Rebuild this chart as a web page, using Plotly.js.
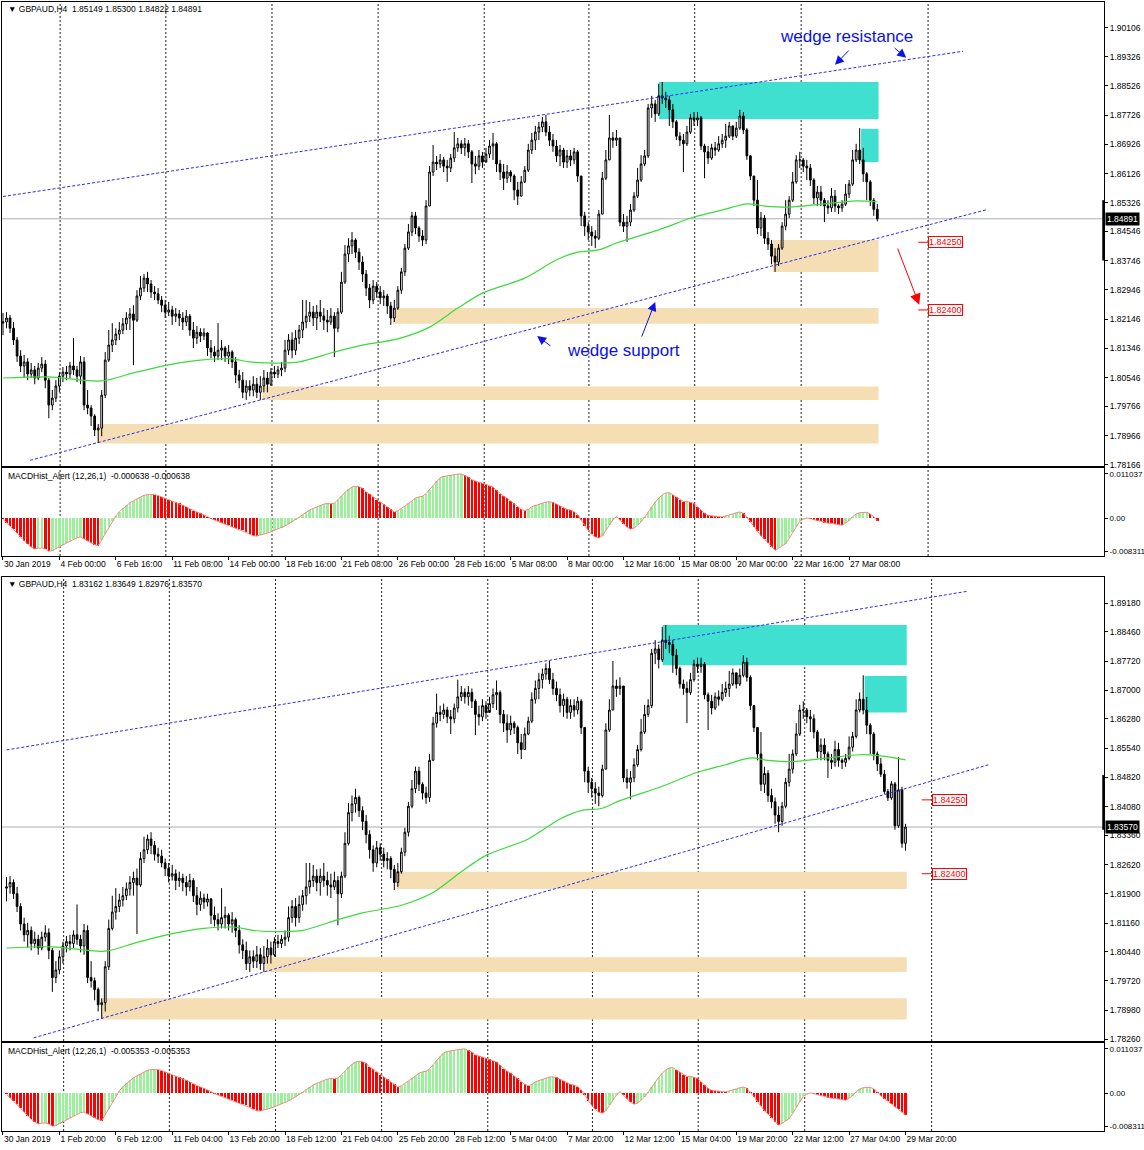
<!DOCTYPE html>
<html><head><meta charset="utf-8">
<script src="https://cdn.plot.ly/plotly-3.0.1.min.js"></script>
<style>html,body{margin:0;padding:0;background:#fff}#chart{width:1144px;height:1150px}</style>
</head><body><div id="chart"></div>
<script>
// ---------------- DATA (GBPAUD H4) ----------------
const firstOpen = 1.8204;
const closes = [
1.8207,1.8218,1.8190,1.8158,1.8114,1.8087,1.8098,1.8065,1.8076,1.8054,
1.8081,1.8092,1.8048,1.7980,1.7999,1.8032,1.8059,1.8070,1.8065,1.8087,
1.8076,1.8059,1.8098,1.7980,1.7972,1.7950,1.7912,1.7917,1.8007,1.8103,
1.8144,1.8158,1.8174,1.8185,1.8202,1.8218,1.8229,1.8212,1.8278,1.8300,
1.8327,1.8311,1.8289,1.8284,1.8267,1.8253,1.8234,1.8240,1.8223,1.8229,
1.8218,1.8207,1.8223,1.8185,1.8163,1.8179,1.8169,1.8177,1.8136,1.8125,
1.8114,1.8130,1.8136,1.8114,1.8125,1.8098,1.8062,1.8048,1.8015,1.8032,
1.8021,1.8037,1.8015,1.8032,1.8054,1.8037,1.8070,1.8065,1.8076,1.8081,
1.8130,1.8158,1.8130,1.8163,1.8185,1.8207,1.8223,1.8234,1.8218,1.8234,
1.8223,1.8212,1.8207,1.8223,1.8190,1.8234,1.8316,1.8393,1.8415,1.8431,
1.8398,1.8371,1.8338,1.8300,1.8267,1.8305,1.8289,1.8273,1.8278,1.8251,
1.8218,1.8245,1.8294,1.8344,1.8409,1.8453,1.8497,1.8464,1.8442,1.8431,
1.8524,1.8617,1.8644,1.8639,1.8650,1.8633,1.8628,1.8655,1.8683,1.8694,
1.8683,1.8694,1.8672,1.8639,1.8633,1.8661,1.8644,1.8666,1.8688,1.8694,
1.8639,1.8617,1.8600,1.8617,1.8606,1.8568,1.8551,1.8590,1.8622,1.8677,
1.8704,1.8726,1.8740,1.8754,1.8726,1.8704,1.8688,1.8661,1.8677,1.8644,
1.8661,1.8650,1.8672,1.8606,1.8497,1.8469,1.8453,1.8442,1.8436,1.8502,
1.8600,1.8650,1.8710,1.8704,1.8710,1.8480,1.8469,1.8480,1.8513,1.8551,
1.8595,1.8639,1.8661,1.8792,1.8803,1.8776,1.8825,1.8819,1.8814,1.8787,
1.8754,1.8715,1.8704,1.8694,1.8726,1.8765,1.8759,1.8765,1.8688,1.8672,
1.8655,1.8683,1.8677,1.8694,1.8704,1.8715,1.8743,1.8715,1.8737,1.8770,
1.8732,1.8661,1.8606,1.8540,1.8464,1.8491,1.8436,1.8420,1.8387,1.8371,
1.8409,1.8469,1.8502,1.8540,1.8590,1.8650,1.8650,1.8633,1.8628,1.8595,
1.8546,1.8562,1.8540,1.8524,1.8519,1.8551,1.8524,1.8519,1.8529,1.8557,
1.8584,1.8650,1.8677,1.8650,1.8612,1.8590,1.8540,1.8515,1.84891,1.8446,
1.8430,1.8465,1.8360,1.8450,1.83162,1.83570];
const highs = [
1.8232,1.8234,1.8226,1.8207,1.8166,1.8130,1.8117,1.8108,1.8095,1.8087,
1.8095,1.8111,1.8103,1.8054,1.8021,1.8048,1.8070,1.8084,1.8087,1.8098,
1.8163,1.8087,1.8114,1.8111,1.8021,1.7980,1.7955,1.7928,1.8021,1.8125,
1.8185,1.8204,1.8190,1.8207,1.8218,1.8234,1.8245,1.8253,1.8294,1.8333,
1.8338,1.8344,1.8322,1.8305,1.8300,1.8278,1.8267,1.8262,1.8251,1.8245,
1.8240,1.8234,1.8240,1.8229,1.8207,1.8196,1.8190,1.8190,1.8179,1.8158,
1.8141,1.8204,1.8158,1.8141,1.8144,1.8130,1.8111,1.8076,1.8070,1.8048,
1.8048,1.8059,1.8054,1.8059,1.8076,1.8070,1.8081,1.8087,1.8087,1.8098,
1.8158,1.8174,1.8179,1.8185,1.8199,1.8267,1.8267,1.8262,1.8251,1.8253,
1.8267,1.8245,1.8240,1.8245,1.8234,1.8245,1.8344,1.8417,1.8436,1.8453,
1.8436,1.8409,1.8387,1.8349,1.8311,1.8322,1.8316,1.8305,1.8294,1.8284,
1.8262,1.8267,1.8305,1.8355,1.8420,1.8475,1.8508,1.8508,1.8469,1.8458,
1.8540,1.8633,1.8691,1.8661,1.8666,1.8658,1.8650,1.8666,1.8726,1.8710,
1.8704,1.8710,1.8704,1.8677,1.8661,1.8677,1.8672,1.8683,1.8704,1.8724,
1.8699,1.8650,1.8639,1.8636,1.8622,1.8611,1.8590,1.8606,1.8633,1.8694,
1.8724,1.8743,1.8754,1.8767,1.8773,1.8743,1.8721,1.8704,1.8691,1.8683,
1.8677,1.8677,1.8683,1.8677,1.8606,1.8508,1.8480,1.8469,1.8458,1.8513,
1.8617,1.8677,1.8773,1.8726,1.8732,1.8710,1.8502,1.8497,1.8529,1.8562,
1.8628,1.8663,1.8677,1.8803,1.8825,1.8814,1.8858,1.8863,1.8836,1.8825,
1.8803,1.8759,1.8726,1.8721,1.8743,1.8776,1.8781,1.8781,1.8770,1.8694,
1.8688,1.8694,1.8699,1.8715,1.8721,1.8748,1.8754,1.8743,1.8754,1.8787,
1.8781,1.8737,1.8663,1.8606,1.8595,1.8508,1.8499,1.8453,1.8431,1.8409,
1.8420,1.8480,1.8540,1.8551,1.8617,1.8663,1.8672,1.8655,1.8650,1.8639,
1.8600,1.8579,1.8579,1.8546,1.8540,1.8573,1.8568,1.8529,1.8540,1.8584,
1.8595,1.8677,1.8694,1.8737,1.8683,1.8617,1.8595,1.8546,1.85300,1.8500,
1.8452,1.8472,1.8470,1.8532,1.8458,1.83649];
const lows = [
1.8171,1.8190,1.8177,1.8144,1.8098,1.8070,1.8054,1.8048,1.8054,1.8037,
1.8048,1.8070,1.8026,1.7944,1.7966,1.7988,1.8015,1.8043,1.8048,1.8054,
1.8062,1.8043,1.8037,1.7966,1.7955,1.7923,1.7895,1.7876,1.7895,1.7999,
1.8098,1.8125,1.8144,1.8158,1.8174,1.8185,1.8185,1.8089,1.8207,1.8267,
1.8289,1.8289,1.8273,1.8267,1.8256,1.8234,1.8218,1.8223,1.8199,1.8207,
1.8196,1.8185,1.8196,1.8169,1.8136,1.8147,1.8152,1.8158,1.8114,1.8108,
1.8098,1.8103,1.8103,1.8098,1.8092,1.8081,1.8040,1.8026,1.7999,1.7994,
1.8004,1.8004,1.7999,1.7994,1.8015,1.8015,1.8032,1.8054,1.8054,1.8059,
1.8070,1.8117,1.8108,1.8117,1.8147,1.8163,1.8190,1.8207,1.8196,1.8185,
1.8207,1.8185,1.8179,1.8199,1.8111,1.8179,1.8229,1.8311,1.8371,1.8393,
1.8382,1.8349,1.8316,1.8278,1.8245,1.8256,1.8273,1.8256,1.8251,1.8229,
1.8199,1.8207,1.8240,1.8284,1.8333,1.8404,1.8442,1.8447,1.8426,1.8415,
1.8420,1.8524,1.8606,1.8622,1.8628,1.8617,1.8590,1.8617,1.8644,1.8672,
1.8666,1.8661,1.8655,1.8587,1.8611,1.8622,1.8628,1.8650,1.8655,1.8650,
1.8617,1.8595,1.8568,1.8587,1.8590,1.8540,1.8527,1.8551,1.8587,1.8617,
1.8666,1.8677,1.8704,1.8726,1.8715,1.8688,1.8672,1.8644,1.8633,1.8628,
1.8628,1.8633,1.8639,1.8590,1.8469,1.8442,1.8431,1.8415,1.8409,1.8431,
1.8502,1.8595,1.8650,1.8683,1.8688,1.8469,1.8453,1.8426,1.8469,1.8508,
1.8546,1.8590,1.8633,1.8655,1.8765,1.8754,1.8770,1.8803,1.8792,1.8743,
1.8737,1.8704,1.8688,1.8617,1.8688,1.8721,1.8743,1.8743,1.8677,1.8600,
1.8639,1.8650,1.8661,1.8672,1.8683,1.8683,1.8710,1.8704,1.8710,1.8732,
1.8721,1.8650,1.8595,1.8524,1.8447,1.8442,1.8420,1.8404,1.8365,1.8344,
1.8360,1.8404,1.8458,1.8491,1.8535,1.8585,1.8628,1.8617,1.8595,1.8579,
1.8529,1.8524,1.8524,1.8480,1.8502,1.8508,1.8508,1.8502,1.8508,1.8524,
1.8546,1.8579,1.8644,1.8639,1.8590,1.8540,1.8524,1.8497,1.84822,1.8440,
1.8422,1.8425,1.8350,1.8355,1.8305,1.82976];
const macd = [
-0.00025,-0.00107,-0.00189,-0.00279,-0.00369,-0.00467,-0.00566,-0.00648,-0.00713,-0.00763,
-0.00746,-0.00738,-0.00763,-0.00820,-0.00804,-0.00763,-0.00713,-0.00664,-0.00615,-0.00566,
-0.00517,-0.00484,-0.00467,-0.00517,-0.00566,-0.00615,-0.00656,-0.00681,-0.00533,-0.00385,
-0.00205,-0.00057,0.00057,0.00164,0.00246,0.00320,0.00385,0.00435,0.00484,0.00533,
0.00574,0.00590,0.00599,0.00590,0.00566,0.00533,0.00500,0.00467,0.00435,0.00402,
0.00369,0.00336,0.00287,0.00238,0.00189,0.00156,0.00123,0.00090,0.00041,-0.00008,
-0.00041,-0.00074,-0.00107,-0.00139,-0.00172,-0.00205,-0.00238,-0.00271,-0.00303,-0.00353,
-0.00402,-0.00435,-0.00439,-0.00418,-0.00402,-0.00369,-0.00336,-0.00303,-0.00271,-0.00238,
-0.00189,-0.00139,-0.00090,-0.00041,0.00025,0.00090,0.00156,0.00205,0.00246,0.00287,
0.00320,0.00353,0.00369,0.00361,0.00377,0.00451,0.00549,0.00648,0.00722,0.00779,
0.00795,0.00787,0.00746,0.00656,0.00599,0.00533,0.00467,0.00418,0.00353,0.00287,
0.00221,0.00156,0.00189,0.00238,0.00303,0.00369,0.00435,0.00500,0.00533,0.00549,
0.00615,0.00713,0.00812,0.00927,0.01009,0.01041,0.01058,0.01066,0.01082,0.01099,
0.011037,0.01074,0.01025,0.00959,0.00927,0.00910,0.00877,0.00845,0.00812,0.00779,
0.00697,0.00615,0.00549,0.00500,0.00435,0.00369,0.00287,0.00221,0.00189,0.00221,
0.00287,0.00320,0.00353,0.00385,0.00402,0.00410,0.00394,0.00353,0.00303,0.00254,
0.00221,0.00205,0.00164,0.00090,-0.00041,-0.00189,-0.00303,-0.00402,-0.00467,-0.00492,
-0.00435,-0.00303,-0.00164,-0.00041,0.00041,-0.00041,-0.00139,-0.00221,-0.00271,-0.00246,
-0.00172,-0.00090,0.00025,0.00156,0.00287,0.00402,0.00500,0.00582,0.00631,0.00640,
0.00582,0.00533,0.00467,0.00418,0.00420,0.00402,0.00369,0.00287,0.00205,0.00123,
0.00074,0.00057,0.00049,0.00041,0.00037,0.00057,0.00082,0.00107,0.00139,0.00156,
0.00123,0.00025,-0.00082,-0.00205,-0.00328,-0.00435,-0.00517,-0.00615,-0.00713,-0.00795,
-0.00746,-0.00697,-0.00631,-0.00500,-0.00353,-0.00205,-0.00074,-0.00025,0.00008,-0.00008,
-0.00041,-0.00057,-0.00074,-0.00107,-0.00123,-0.00127,-0.00139,-0.00156,-0.00172,-0.00123,
-0.00057,0.00041,0.00107,0.00139,0.00144,0.00148,0.00107,0.00041,-0.000638,-0.00130,
-0.00200,-0.00260,-0.00340,-0.00400,-0.00470,-0.005353];
// moving average (green line), read at these bars
const maBars   = [0,13,28,37,47,56,65,70,79,84,94,101,112,121,129,136,148,157,163,169,174,186,196,204,211,216,223,233,242,248,255];
const maValues = [1.8054,1.8057,1.8046,1.8068,1.8090,1.8103,1.8106,1.8098,1.8095,1.8098,1.8125,1.8142,1.8161,1.8193,1.8245,1.8286,1.8327,1.8377,1.8398,1.8404,1.8423,1.8459,1.8494,1.8513,1.8530,1.8524,1.8521,1.8530,1.8538,1.8535,1.8525];

// tick labels
const topTimeLabels = ["30 Jan 2019","4 Feb 00:00","6 Feb 16:00","11 Feb 08:00","14 Feb 00:00","18 Feb 16:00","21 Feb 08:00","26 Feb 00:00","28 Feb 16:00","5 Mar 08:00","8 Mar 00:00","12 Mar 16:00","15 Mar 08:00","20 Mar 00:00","22 Mar 16:00","27 Mar 08:00"];
const botTimeLabels = ["30 Jan 2019","1 Feb 20:00","6 Feb 12:00","11 Feb 04:00","13 Feb 20:00","18 Feb 12:00","21 Feb 04:00","25 Feb 20:00","28 Feb 12:00","5 Mar 04:00","7 Mar 20:00","12 Mar 12:00","15 Mar 04:00","19 Mar 20:00","22 Mar 12:00","27 Mar 04:00","29 Mar 20:00"];
const topPriceTicks = [1.90106,1.89326,1.88526,1.87726,1.86926,1.86126,1.85326,1.84546,1.83746,1.82946,1.82146,1.81346,1.80546,1.79766,1.78966,1.78166];
const botPriceTicks = [1.89180,1.88460,1.87720,1.87000,1.86280,1.85540,1.84820,1.84080,1.83360,1.82620,1.81900,1.81160,1.80440,1.79720,1.78980,1.78260];
const macdTicks = [0.011037, 0, -0.008311];
const macdTickText = ["0.011037","0.00","-0.008311"];

// drawing objects (price levels / zones / wedge)
const zoneCyanBig   = [186.1, 1.8762, 1.8863];
const zoneCyanSmall = [243.4, 1.8644, 1.8735];
const zoneTanHigh   = [218.4, 1.8344, 1.8431]; // only in first chart
const zoneTanMid    = [110.6, 1.8202, 1.8245];
const zoneTanLow    = [73.5, 1.7994, 1.8031];
const zoneTanBase   = [27.0, 1.7875, 1.7928];
const supportLine    = [7.7, 1.7829, 279.0, 1.8514];
const resistanceLine = [0.0, 1.8550, 272.3, 1.8947];
const priceLevels = [1.84250, 1.82400];
const gridBars = [16.2, 46.2, 76.3, 106.4, 136.5, 166.2, 196.2, 226.4, 262.4];

// ---------------- LAYOUT helpers ----------------
const W = 1144, H = 1150;
const xDom = [2 / W, 1104 / W];
const yd = (top, bot) => [1 - bot / H, 1 - top / H];
const FONT = "Liberation Sans, Arial, sans-serif";
const nb = '\u00A0';

function build(n, ax, ay, ax2, ay2) {
  const idx = Array.from({length: n}, (_, i) => i);
  const o = [firstOpen].concat(closes.slice(0, n - 1));
  const mv = macd.slice(0, n);
  const cols = mv.map((v, i) => (i > 0 && v >= mv[i - 1]) ? '#9CF09C' : '#FF0000');
  const mb = [], mvv = [];
  maBars.forEach((b, i) => { if (b <= n - 1) { mb.push(b); mvv.push(maValues[i]); } });
  return [
    {type: 'candlestick', x: idx, open: o, high: highs.slice(0, n), low: lows.slice(0, n), close: closes.slice(0, n),
     xaxis: ax, yaxis: ay, whiskerwidth: 0, hoverinfo: 'skip', showlegend: false,
     increasing: {line: {color: '#000', width: 1}, fillcolor: '#FFFFFF'},
     decreasing: {line: {color: '#000', width: 1}, fillcolor: '#000000'}},
    {type: 'scatter', mode: 'lines', x: mb, y: mvv, xaxis: ax, yaxis: ay, hoverinfo: 'skip',
     line: {color: '#3ADB3A', width: 1.2, shape: 'spline', smoothing: 0.8}},
    {type: 'bar', x: idx, y: mv, xaxis: ax2, yaxis: ay2, width: 0.7, hoverinfo: 'skip',
     marker: {color: cols, line: {width: 0}}},
    {type: 'scatter', mode: 'lines', x: idx, y: mv, xaxis: ax2, yaxis: ay2, hoverinfo: 'skip',
     line: {color: '#F08A80', width: 1}}
  ];
}

const data = [].concat(build(249, 'x', 'y', 'x2', 'y2'), build(256, 'x3', 'y3', 'x4', 'y4'));

const shapes = [];
const annotations = [];

function decorate(ax, ay, ax2, ay2, lastIdx, withTanHigh, lastClose, blackBar) {
  const zx1 = lastIdx + 0.35;
  const zones = [[zoneCyanBig, '#40E0D0'], [zoneCyanSmall, '#40E0D0'], [zoneTanMid, '#F5DEB3'], [zoneTanLow, '#F5DEB3'], [zoneTanBase, '#F5DEB3']];
  if (withTanHigh) zones.push([zoneTanHigh, '#F5DEB3']);
  zones.forEach(([z, c]) => shapes.push({type: 'rect', xref: ax, yref: ay, x0: z[0], x1: zx1, y0: z[1], y1: z[2],
    fillcolor: c, line: {width: 0}, layer: 'below'}));
  gridBars.forEach(g => {
    [[ax, ay], [ax2, ay2]].forEach(([a, b]) => shapes.push({type: 'line', xref: a, yref: b + ' domain', x0: g, x1: g, y0: 0, y1: 1,
      line: {color: '#222', width: 1, dash: '2px,2px'}, layer: 'below'}));
  });
  shapes.push({type: 'line', xref: ax + ' domain', yref: ay, x0: 0, x1: 1, y0: lastClose, y1: lastClose,
    line: {color: '#A7AEBB', width: 1}, layer: 'below'});
  [supportLine, resistanceLine].forEach(l => shapes.push({type: 'line', xref: ax, yref: ay, x0: l[0], y0: l[1], x1: l[2], y1: l[3],
    line: {color: '#2B2BF2', width: 1, dash: '3px,2px'}, layer: 'above'}));
  priceLevels.forEach(p => {
    shapes.push({type: 'line', xref: ax, yref: ay, x0: 259.6, x1: 262.4, y0: p, y1: p, line: {color: '#FF0000', width: 1}});
    annotations.push({xref: ax, yref: ay, x: 262.4, y: p, xanchor: 'left', yanchor: 'middle', showarrow: false,
      text: p.toFixed(5), font: {family: FONT, size: 9, color: '#FF0000'}, bgcolor: '#FFFFFF', bordercolor: '#FF0000', borderwidth: 1, borderpad: 0});
  });
  shapes.push({type: 'line', xref: 'paper', yref: ay, x0: 1103.5 / W, x1: 1103.5 / W, y0: blackBar[0], y1: blackBar[1],
    line: {color: '#000', width: 2.5}});
  annotations.push({xref: 'paper', yref: ay, x: 1104.5 / W, y: lastClose, xanchor: 'left', yanchor: 'middle', showarrow: false,
    text: lastClose.toFixed(5), font: {family: FONT, size: 8.5, color: '#FFFFFF'}, bgcolor: '#000000', borderpad: 1});
}

decorate('x', 'y', 'x2', 'y2', 248, true, closes[248], [1.8375, 1.8540]);
decorate('x3', 'y3', 'x4', 'y4', 255, false, closes[255], [1.8350, 1.8487]);

// header texts
function hdr(txt, ypx) {
  annotations.push({xref: 'paper', yref: 'paper', x: 6 / W, y: 1 - ypx / H, xanchor: 'left', yanchor: 'middle', showarrow: false,
    text: txt, font: {family: FONT, size: 8.5, color: '#000'}});
}
hdr('\u25BC' + nb + 'GBPAUD,H4' + nb + nb + '1.85149 1.85300 1.84822 1.84891', 9);
hdr('MACDHist_Alert (12,26,1)' + nb + nb + '-0.000638 -0.000638', 476);
hdr('\u25BC' + nb + 'GBPAUD,H4' + nb + nb + '1.83162 1.83649 1.82976 1.83570', 584);
hdr('MACDHist_Alert (12,26,1)' + nb + nb + '-0.005353 -0.005353', 1051);

// wedge texts and arrows (first chart)
const BLUE = '#0A14E6';
annotations.push({xref: 'x', yref: 'y', x: 239.4, y: 1.8986, showarrow: false, text: 'wedge resistance',
  font: {family: FONT, size: 17, color: BLUE}});
annotations.push({xref: 'x', yref: 'y', x: 175.9, y: 1.8128, showarrow: false, text: 'wedge support',
  font: {family: FONT, size: 17, color: BLUE}});
function arrow(hx, hy, tx, ty, color, size) {
  annotations.push({xref: 'x', yref: 'y', axref: 'x', ayref: 'y', x: hx, y: hy, ax: tx, ay: ty, text: '', showarrow: true,
    arrowhead: 2, arrowsize: size, arrowwidth: 1, arrowcolor: color, standoff: 0, startstandoff: 0});
}
arrow(236.0, 1.8910, 240.3, 1.8953, BLUE, 1.8);
arrow(256.2, 1.8929, 252.5, 1.8959, BLUE, 1.8);
arrow(151.5, 1.8169, 155.7, 1.8139, BLUE, 1.8);
arrow(185.0, 1.8262, 181.0, 1.8163, BLUE, 1.8);
arrow(259.9, 1.8254, 253.6, 1.8412, '#FF0000', 2.2);

const tickF = {family: FONT, size: 8.5, color: '#000'};
function xAxis(range, anchor, labels, tickvals) {
  const a = {domain: xDom, range: range, anchor: anchor, showgrid: false, zeroline: false, showline: true, mirror: true,
    linecolor: '#000', linewidth: 1, fixedrange: true, rangeslider: {visible: false}};
  if (labels) {
    Object.assign(a, {tickmode: 'array', tickvals: tickvals, ticktext: labels, ticks: 'outside', ticklen: 3, tickcolor: '#000',
      tickfont: tickF, ticklabelposition: 'outside right', tickangle: 0});
  } else {
    Object.assign(a, {showticklabels: false, ticks: ''});
  }
  return a;
}
function yAxis(dom, range, anchor, vals, texts, fsize) {
  return {domain: dom, range: range, anchor: anchor, side: 'right', tickmode: 'array', tickvals: vals, ticktext: texts,
    ticks: 'outside', ticklen: 3, tickcolor: '#000', tickfont: {family: FONT, size: fsize, color: '#000'}, showgrid: false, zeroline: false,
    showline: true, mirror: true, linecolor: '#000', linewidth: 1, fixedrange: true};
}
const topTickVals = topTimeLabels.map((_, i) => i * 16);
const botTickVals = botTimeLabels.map((_, i) => i * 16 - 1);
const layout = {
  width: W, height: H, margin: {l: 0, r: 0, t: 0, b: 0}, paper_bgcolor: '#FFFFFF', plot_bgcolor: '#FFFFFF',
  showlegend: false, hovermode: false, font: tickF, bargap: 0,
  xaxis:  xAxis([-0.28, 312.3], 'y'),
  xaxis2: xAxis([-0.28, 312.3], 'y2', topTimeLabels, topTickVals),
  xaxis3: xAxis([-1.28, 311.3], 'y3'),
  xaxis4: xAxis([-1.28, 311.3], 'y4', botTimeLabels, botTickVals),
  yaxis:  yAxis(yd(2, 466), [1.78135, 1.90816], 'x', topPriceTicks, topPriceTicks.map(v => v.toFixed(5)), 8.5),
  yaxis2: yAxis(yd(468, 556), [-0.00939, 0.01252], 'x2', macdTicks, macdTickText, 8),
  yaxis3: yAxis(yd(577, 1041), [1.78211, 1.89831], 'x3', botPriceTicks, botPriceTicks.map(v => v.toFixed(5)), 8.5),
  yaxis4: yAxis(yd(1043, 1131), [-0.00939, 0.01252], 'x4', macdTicks, macdTickText, 8),
  shapes: shapes, annotations: annotations
};
Plotly.newPlot('chart', data, layout, {staticPlot: true, displayModeBar: false});
</script>
</body></html>
